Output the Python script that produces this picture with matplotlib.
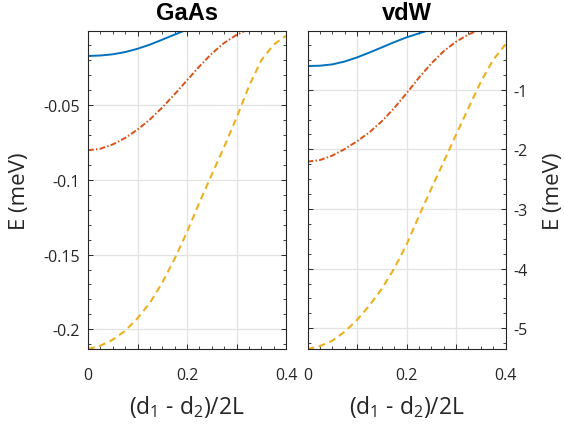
import matplotlib
matplotlib.use('Agg')
import matplotlib.pyplot as plt
import numpy as np
from matplotlib.ticker import MultipleLocator

plt.rcParams['font.family'] = ['Open Sans', 'DejaVu Sans']
plt.rcParams['mathtext.default'] = 'regular'

# x = (d1 - d2)/2L
x = [0, 0.025, 0.05, 0.075, 0.1, 0.125, 0.15, 0.175, 0.2, 0.225, 0.25,
     0.275, 0.3, 0.325, 0.35, 0.375, 0.4]

# GaAs (meV)
gaas_1 = [-0.0171, -0.0168, -0.0160, -0.0145, -0.0123, -0.0095, -0.0062, -0.0028, 0.0005]
gaas_2 = [-0.0802, -0.0792, -0.0763, -0.0720, -0.0664, -0.0596, -0.0516, -0.0427,
          -0.0334, -0.0241, -0.0155, -0.0084, -0.0030, 0.0010]
gaas_3 = [-0.2132, -0.2110, -0.2070, -0.2010, -0.1926, -0.1824, -0.1688, -0.1528,
          -0.1349, -0.1152, -0.0965, -0.0780, -0.0585, -0.0375, -0.0200, -0.0095, -0.0036]

# vdW (meV)
vdw_1 = [-0.603, -0.597, -0.575, -0.527, -0.458, -0.377, -0.290, -0.203, -0.122, -0.055, 0.010]
vdw_2 = [-2.205, -2.180, -2.105, -1.995, -1.865, -1.715, -1.530, -1.310, -1.060,
         -0.800, -0.560, -0.355, -0.195, -0.075, 0.015]
vdw_3 = [-5.348, -5.300, -5.210, -5.060, -4.860, -4.620, -4.340, -4.000, -3.600,
         -3.120, -2.660, -2.210, -1.756, -1.310, -0.870, -0.500, -0.240]

blue = '#0072BD'
orange = '#D95319'
yellow = '#EDB120'
axcol = '#262626'

fig = plt.figure(figsize=(5.64, 4.27), dpi=100)
ax1 = fig.add_axes([88 / 564, 77 / 427, 198 / 564, 318 / 427])
ax2 = fig.add_axes([307.5 / 564, 77 / 427, 198 / 564, 318 / 427])


def draw(ax, c1, c2, c3):
    ax.plot(x[:len(c1)], c1, color=blue, lw=1.4, ls='-')
    ax.plot(x[:len(c2)], c2, color=orange, lw=1.4, ls=(0, (3.0, 1.1, 0.8, 1.1)))
    ax.plot(x[:len(c3)], c3, color=yellow, lw=1.5, ls=(0, (3.3, 2.2)))
    ax.set_xlim(0, 0.4)
    ax.set_xticks([0, 0.1, 0.2, 0.3, 0.4])
    ax.set_xticklabels(['0', '', '0.2', '', '0.4'])
    ax.xaxis.set_minor_locator(MultipleLocator(0.025))
    ax.grid(True, which='major', color='#e3e3e3', lw=0.9)
    ax.set_axisbelow(True)
    for s in ax.spines.values():
        s.set_color(axcol)
        s.set_linewidth(0.8)
    ax.tick_params(which='both', direction='in', top=True, bottom=True,
                   left=True, right=True, colors=axcol, labelsize=11.5)
    ax.tick_params(which='major', length=3.5, width=0.7)
    ax.tick_params(which='minor', length=2.2, width=0.6)
    ax.tick_params(axis='x', pad=13)
    ax.set_xlabel('(d$_1$ - d$_2$)/2L', fontsize=16.5, color=axcol, va='center')
    ax.xaxis.set_label_coords(0.5, -0.18)


draw(ax1, gaas_1, gaas_2, gaas_3)
ax1.set_ylim(-0.2132, -0.0004)
ax1.set_yticks([-0.2, -0.15, -0.1, -0.05])
ax1.set_yticklabels(['-0.2', '-0.15', '-0.1', '-0.05'])
ax1.yaxis.set_minor_locator(MultipleLocator(0.01))
ax1.tick_params(axis='y', pad=6)
ax1.set_ylabel('E (meV)', fontsize=16, color=axcol, va='center')
ax1.yaxis.set_label_coords(-0.345, 0.5)
ax1.set_title('GaAs', fontsize=17, fontweight='bold', family='Liberation Sans', pad=8.5)

draw(ax2, vdw_1, vdw_2, vdw_3)
ax2.set_ylim(-5.348, -0.015)
ax2.set_yticks([-5, -4, -3, -2, -1])
ax2.set_yticklabels(['-5', '-4', '-3', '-2', '-1'])
ax2.yaxis.set_minor_locator(MultipleLocator(0.25))
ax2.tick_params(axis='y', labelleft=False, labelright=True, pad=6)
ax2.yaxis.set_label_position('right')
ax2.set_ylabel('E (meV)', fontsize=16, color=axcol, va='center')
ax2.yaxis.set_label_coords(1.24, 0.5)
ax2.set_title('vdW', fontsize=17, fontweight='bold', family='Liberation Sans', pad=8.5)

fig.savefig('out.png', dpi=100)
